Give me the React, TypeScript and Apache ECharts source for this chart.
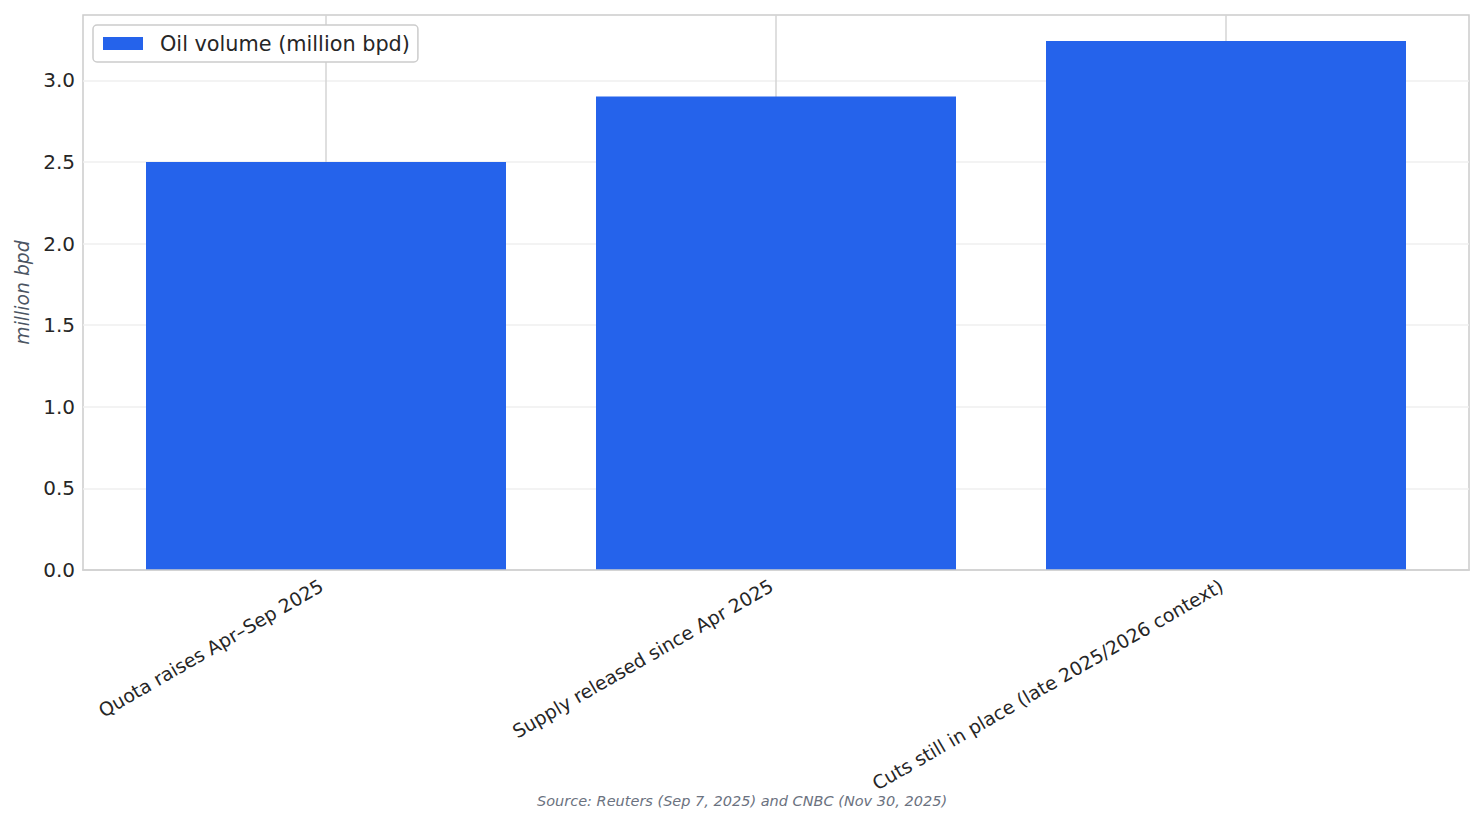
import React, { useEffect, useRef } from "react";
import * as echarts from "echarts";

const categories = [
  "Quota raises Apr–Sep 2025",
  "Supply released since Apr 2025",
  "Cuts still in place (late 2025/2026 context)",
];
const oilVolume = [2.5, 2.9, 3.24];
const yTicks = [0, 0.5, 1.0, 1.5, 2.0, 2.5, 3.0];
const seriesName = "Oil volume (million bpd)";
const yAxisName = "million bpd";
const sourceNote = "Source: Reuters (Sep 7, 2025) and CNBC (Nov 30, 2025)";

const FONT = "DejaVu Sans";

export default function App() {
  const ref = useRef<HTMLDivElement>(null);
  useEffect(() => {
    if (!ref.current) return;
    const chart = echarts.init(ref.current, null, { renderer: "svg" });
    const positions = categories.map((_, i) => i);
    chart.setOption({
      animation: false,
      backgroundColor: "#ffffff",
      textStyle: { fontFamily: FONT },
      title: {
        text: sourceNote,
        left: "center",
        top: 788,
        textStyle: {
          fontFamily: FONT,
          fontSize: 14.5,
          fontStyle: "italic",
          fontWeight: "normal",
          color: "#6b7280",
        },
      },
      legend: {
        left: 93,
        top: 25,
        padding: [8, 8, 8, 10],
        itemWidth: 40,
        itemHeight: 13,
        icon: "rect",
        backgroundColor: "#ffffff",
        borderColor: "#cccccc",
        borderWidth: 1.5,
        borderRadius: 4,
        textStyle: {
          fontFamily: FONT,
          fontSize: 20.8,
          color: "#262626",
          padding: [0, 0, 0, 12],
        },
        data: [seriesName],
      },
      grid: {
        left: 83,
        right: 15,
        top: 15,
        bottom: 254,
        show: true,
        borderColor: "#cccccc",
        borderWidth: 1.5,
        backgroundColor: "transparent",
      },
      xAxis: [
        {
          type: "value",
          min: -0.54,
          max: 2.54,
          axisLine: { show: false },
          axisTick: { show: false, customValues: positions },
          splitLine: {
            show: true,
            lineStyle: { color: "#d4d4d4", width: 1.5 },
          },
          axisLabel: {
            customValues: positions,
            rotate: 30,
            margin: 12,
            fontFamily: FONT,
            fontSize: 18.8,
            color: "#262626",
            padding: [0, 5, 0, 0],
            formatter: (v: number) => categories[Math.round(v)] ?? "",
          },
        },
        {
          type: "value",
          position: "bottom",
          min: -0.54,
          max: 2.54,
          z: 5,
          axisLine: { show: true, lineStyle: { color: "#cccccc", width: 1.5 } },
          axisTick: { show: false },
          axisLabel: { show: false },
          splitLine: { show: false },
        },
      ],
      yAxis: {
        type: "value",
        min: 0,
        max: 3.4,
        name: yAxisName,
        nameLocation: "middle",
        nameGap: 51,
        nameTextStyle: {
          fontFamily: FONT,
          fontSize: 18.8,
          fontStyle: "italic",
          color: "#4b5563",
        },
        axisLine: { show: false },
        axisTick: { show: false, customValues: yTicks },
        splitLine: {
          show: true,
          lineStyle: { color: "#efefef", width: 1.5 },
        },
        axisLabel: {
          customValues: yTicks,
          margin: 8,
          fontFamily: FONT,
          fontSize: 20,
          color: "#262626",
          formatter: (v: number) => v.toFixed(1),
        },
      },
      series: [
        {
          name: seriesName,
          type: "bar",
          xAxisIndex: 0,
          barWidth: "80%",
          itemStyle: { color: "#2563eb" },
          data: oilVolume.map((v, i) => [positions[i], v]),
        },
      ],
    });
    return () => chart.dispose();
  }, []);
  return (
    <div
      ref={ref}
      style={{ position: "fixed", left: 0, top: 0, width: "1484px", height: "824px" }}
    />
  );
}
